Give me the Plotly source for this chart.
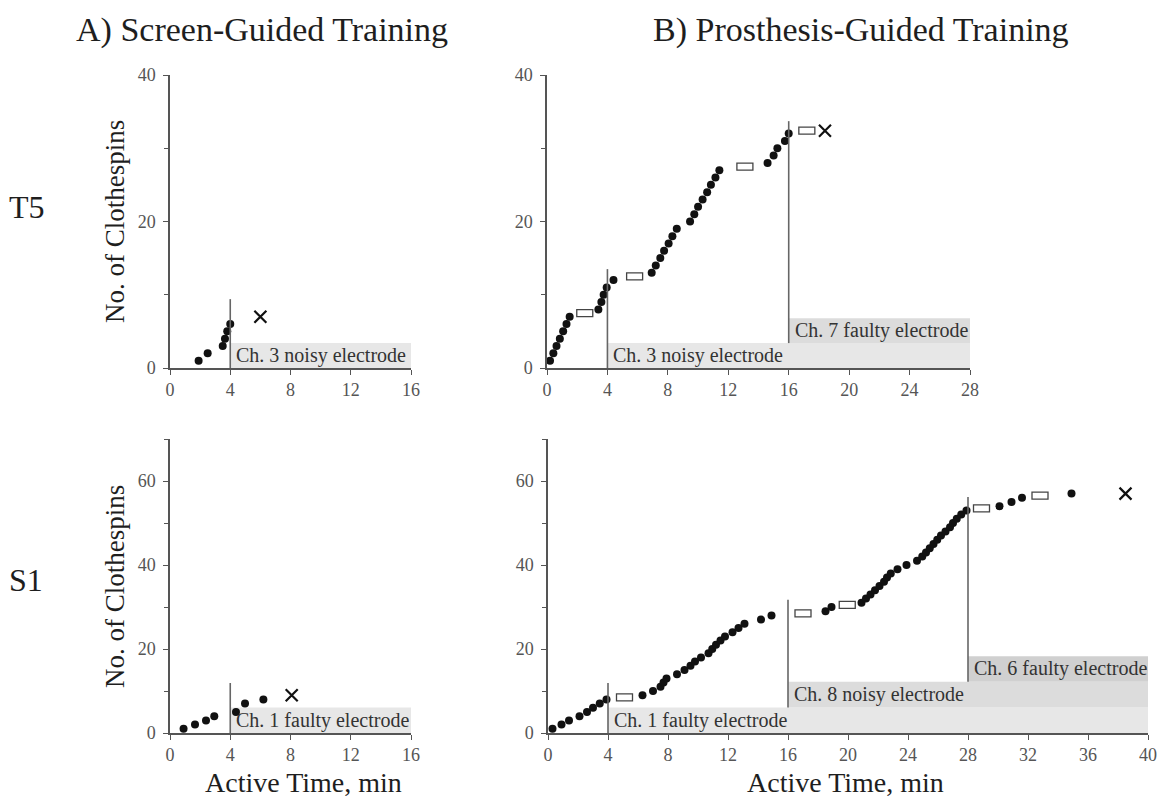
import plotly.graph_objects as go

W, H = 1161, 797
FONT = "Liberation Serif"

# ---------------- data ----------------
# T5, screen-guided training
t5_screen_time = [1.9, 2.5, 3.5, 3.65, 3.8, 4.0]
t5_screen_count = [1, 2, 3, 4, 5, 6]
t5_screen_pause_time = []
t5_screen_pause_count = []
t5_screen_end_time = [6.0]
t5_screen_end_count = [7]
t5_screen_event_time = [4]
t5_screen_event_top = [9.4]
t5_screen_event_label = ["Ch. 3 noisy electrode"]

# T5, prosthesis-guided training
t5_pros_time = [0.2, 0.42, 0.63, 0.85, 1.07, 1.29, 1.5,
                3.4, 3.6, 3.75, 3.95, 4.4,
                6.93, 7.2, 7.5, 7.75, 8.05, 8.3, 8.59,
                9.47, 9.75, 10.0, 10.3, 10.6, 10.85, 11.15, 11.41,
                14.6, 15.0, 15.25, 15.75, 16.0]
t5_pros_count = [1, 2, 3, 4, 5, 6, 7,
                 8, 9, 10, 11, 12,
                 13, 14, 15, 16, 17, 18, 19,
                 20, 21, 22, 23, 24, 25, 26, 27,
                 28, 29, 30, 31, 32]
t5_pros_pause_time = [2.5, 5.8, 13.1, 17.2]
t5_pros_pause_count = [7.5, 12.5, 27.5, 32.4]
t5_pros_end_time = [18.4]
t5_pros_end_count = [32.4]
t5_pros_event_time = [4, 16]
t5_pros_event_top = [13.5, 33.7]
t5_pros_event_label = ["Ch. 3 noisy electrode", "Ch. 7 faulty electrode"]

# S1, screen-guided training
s1_screen_time = [0.9, 1.66, 2.39, 2.94, 4.38, 4.98, 6.2]
s1_screen_count = [1, 2, 3, 4, 5, 7, 8]
s1_screen_pause_time = []
s1_screen_pause_count = []
s1_screen_end_time = [8.08]
s1_screen_end_count = [9]
s1_screen_event_time = [4]
s1_screen_event_top = [11.9]
s1_screen_event_label = ["Ch. 1 faulty electrode"]

# S1, prosthesis-guided training
s1_pros_time = [0.3, 0.9, 1.4, 2.1, 2.6, 3.0, 3.45, 3.9,
                6.3, 7.0, 7.5, 7.7, 7.9, 8.6, 9.1, 9.5, 9.8, 10.2,
                10.7, 10.95, 11.2, 11.5, 11.8, 12.3, 12.7, 13.1, 14.2, 14.9,
                18.5, 18.9,
                20.9, 21.2, 21.5, 21.8, 22.1, 22.4, 22.6, 22.85, 23.3, 23.9,
                24.6, 24.95, 25.2, 25.45, 25.7, 25.95, 26.2, 26.5, 26.8, 27.0,
                27.25, 27.55, 27.9,
                30.1, 30.9, 31.6,
                34.9]
s1_pros_count = [1, 2, 3, 4, 5, 6, 7, 8,
                 9, 10, 11, 12, 13, 14, 15, 16, 17, 18,
                 19, 20, 21, 22, 23, 24, 25, 26, 27, 28,
                 29, 30,
                 31, 32, 33, 34, 35, 36, 37, 38, 39, 40,
                 41, 42, 43, 44, 45, 46, 47, 48, 49, 50,
                 51, 52, 53,
                 54, 55, 56,
                 57]
s1_pros_pause_time = [5.1, 17.0, 19.95, 28.9, 32.8]
s1_pros_pause_count = [8.5, 28.5, 30.5, 53.5, 56.5]
s1_pros_end_time = [38.5]
s1_pros_end_count = [57]
s1_pros_event_time = [4, 16, 28]
s1_pros_event_top = [11.9, 31.7, 56.2]
s1_pros_event_label = ["Ch. 1 faulty electrode", "Ch. 8 noisy electrode",
                       "Ch. 6 faulty electrode"]

x_ticks_step = 4
y_ticks_step = 20

# ---------------- layout helpers ----------------
def px_x(p):
    return p / W


def px_y(p):
    return 1 - p / H


panels = [
    dict(t=t5_screen_time, n=t5_screen_count, pt=t5_screen_pause_time, pn=t5_screen_pause_count,
         et=t5_screen_end_time, en=t5_screen_end_count, ev=t5_screen_event_time,
         evtop=t5_screen_event_top, evlab=t5_screen_event_label,
         xdom=[px_x(170), px_x(411)], ydom=[px_y(368), px_y(75)], xr=[0, 16], yr=[0, 40], band=3.4),
    dict(t=t5_pros_time, n=t5_pros_count, pt=t5_pros_pause_time, pn=t5_pros_pause_count,
         et=t5_pros_end_time, en=t5_pros_end_count, ev=t5_pros_event_time,
         evtop=t5_pros_event_top, evlab=t5_pros_event_label,
         xdom=[px_x(547), px_x(970)], ydom=[px_y(368), px_y(75)], xr=[0, 28], yr=[0, 40], band=3.4),
    dict(t=s1_screen_time, n=s1_screen_count, pt=s1_screen_pause_time, pn=s1_screen_pause_count,
         et=s1_screen_end_time, en=s1_screen_end_count, ev=s1_screen_event_time,
         evtop=s1_screen_event_top, evlab=s1_screen_event_label,
         xdom=[px_x(170), px_x(411)], ydom=[px_y(733), px_y(439)], xr=[0, 16], yr=[0, 70], band=6.1),
    dict(t=s1_pros_time, n=s1_pros_count, pt=s1_pros_pause_time, pn=s1_pros_pause_count,
         et=s1_pros_end_time, en=s1_pros_end_count, ev=s1_pros_event_time,
         evtop=s1_pros_event_top, evlab=s1_pros_event_label,
         xdom=[px_x(548), px_x(1148)], ydom=[px_y(733), px_y(439)], xr=[0, 40], yr=[0, 70], band=6.1),
]

band_colors = ["#e7e7e7", "#dcdcdc", "#d0d0d0"]
AX = "#555555"

fig = go.Figure()
shapes = []
annotations = []
layout_axes = {}

for i, p in enumerate(panels):
    k = "" if i == 0 else str(i + 1)
    xref, yref = "x" + k, "y" + k
    # data points
    fig.add_trace(go.Scatter(x=p["t"], y=p["n"], mode="markers", xaxis=xref, yaxis=yref,
                             marker=dict(color="#111111", size=8),
                             cliponaxis=False, showlegend=False, hoverinfo="x+y"))
    # end marker
    fig.add_trace(go.Scatter(x=p["et"], y=p["en"], mode="markers", xaxis=xref, yaxis=yref,
                             marker=dict(symbol="x-thin", size=12, color="#111111",
                                         line=dict(color="#111111", width=2.2)),
                             cliponaxis=False, showlegend=False, hoverinfo="x+y"))
    # electrode event bands, lines and labels
    xmax = p["xr"][1]
    for j, (ev, top, lab) in enumerate(zip(p["ev"], p["evtop"], p["evlab"])):
        y0 = j * p["band"]
        y1 = (j + 1) * p["band"]
        shapes.append(dict(type="rect", xref=xref, yref=yref, x0=ev, x1=xmax, y0=y0, y1=y1,
                           fillcolor=band_colors[j], line=dict(width=0), layer="below"))
        shapes.append(dict(type="line", xref=xref, yref=yref, x0=ev, x1=ev, y0=y0, y1=top,
                           line=dict(color="#666666", width=1.6), layer="above"))
        annotations.append(dict(xref=xref, yref=yref, x=ev, y=(y0 + y1) / 2, text=lab,
                                showarrow=False, xanchor="left", yanchor="middle", xshift=4,
                                font=dict(family=FONT, size=20, color="#333333")))
    # pause markers (open rectangles)
    for tx, ny in zip(p["pt"], p["pn"]):
        shapes.append(dict(type="rect", xref=xref, yref=yref, xsizemode="pixel", ysizemode="pixel",
                           xanchor=tx, yanchor=ny, x0=-8, x1=8, y0=-3.5, y1=3.5,
                           fillcolor="white", line=dict(color="#444444", width=1.3), layer="above"))

    common = dict(showline=True, linecolor=AX, linewidth=1.5, showgrid=False, zeroline=False,
                  ticks="outside", ticklen=5, tickwidth=1.3, tickcolor=AX, automargin=False,
                  tickfont=dict(family=FONT, size=18, color="#555555"), fixedrange=True)
    layout_axes["xaxis" + k] = dict(domain=p["xdom"], range=p["xr"], anchor=yref,
                                    tick0=0, dtick=x_ticks_step, **common)
    layout_axes["yaxis" + k] = dict(domain=p["ydom"], range=p["yr"], anchor=xref,
                                    tick0=0, dtick=y_ticks_step, ticklabelstandoff=4,
                                    minor=dict(dtick=10, ticks="outside", ticklen=4,
                                               tickcolor=AX, tickwidth=1.2),
                                    **common)

TXT = "#1e1e1e"
def paper_text(text, x, y, size, angle=0):
    annotations.append(dict(xref="paper", yref="paper", x=px_x(x), y=px_y(y), text=text,
                            showarrow=False, xanchor="center", yanchor="middle",
                            textangle=angle, font=dict(family=FONT, size=size, color=TXT)))

paper_text("A) Screen-Guided Training", 262, 30, 34)
paper_text("B) Prosthesis-Guided Training", 861, 30, 34)
paper_text("T5", 27, 207, 32)
paper_text("S1", 26, 580, 32)
paper_text("No. of Clothespins", 115, 222, 27, -90)
paper_text("No. of Clothespins", 115, 587, 27, -90)
paper_text("Active Time, min", 303, 782, 28)
paper_text("Active Time, min", 845, 782, 28)

fig.update_layout(width=W, height=H, margin=dict(l=0, r=0, t=0, b=0, pad=0, autoexpand=False),
                  paper_bgcolor="white", plot_bgcolor="white",
                  shapes=shapes, annotations=annotations, showlegend=False,
                  font=dict(family=FONT), **layout_axes)

fig.write_html("out.html", config={"displayModeBar": False},
               post_script="document.body.style.margin='0';"
                           "document.body.style.padding='0';"
                           "document.body.style.overflow='hidden';")
